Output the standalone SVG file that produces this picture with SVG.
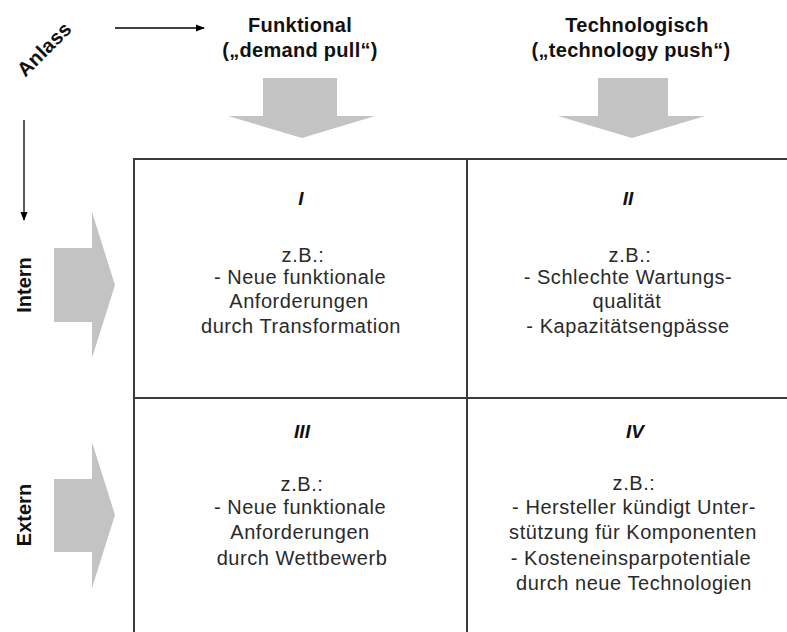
<svg xmlns="http://www.w3.org/2000/svg" width="787" height="632" viewBox="0 0 787 632">
<defs>
<style>
.hd{font-family:"Liberation Sans",Arial,sans-serif;font-weight:bold;font-size:20px;fill:#111;text-anchor:middle}
.rn{font-family:"Liberation Sans",Arial,sans-serif;font-weight:bold;font-style:italic;font-size:19px;fill:#111;text-anchor:middle}
.ct{font-family:"Liberation Sans",Arial,sans-serif;font-size:20px;letter-spacing:0.55px;fill:#2a2a2a;text-anchor:middle}
.big{fill:#c3c3c3;stroke:none}
.grid{stroke:#3a3a3a;stroke-width:2;fill:none}
.thin{stroke:#000;stroke-width:1.3;fill:none}
</style>
<marker id="ah" viewBox="0 0 10 10" refX="9" refY="5" markerWidth="9" markerHeight="9" markerUnits="userSpaceOnUse" orient="auto">
<path d="M0,1 L10,5 L0,9 Z" fill="#000"/>
</marker>
</defs>
<rect width="787" height="632" fill="#fff"/>

<g id="connectors">
<line class="thin" x1="115" y1="28" x2="204" y2="28" marker-end="url(#ah)"/>
<line class="thin" x1="24" y1="120" x2="24" y2="220" marker-end="url(#ah)"/>
<path id="arrow-funktional" class="big" d="M263,78 H337 V116 H375 L302,138 L228,116 H263 Z"/>
<path id="arrow-technologisch" class="big" d="M598,78 H668 V116 H705 L632,138 L558,116 H598 Z"/>
<path id="arrow-intern" class="big" d="M54,248 H92 V212 L115,285 L92,358 V322 H54 Z"/>
<path id="arrow-extern" class="big" d="M54,479 H92 V442 L115,515 L92,588 V552 H54 Z"/>
</g>

<g id="label-anlass">
<text class="hd" font-size="20" letter-spacing="0.3" transform="translate(49,54) rotate(-45)">Anlass</text>
</g>
<g id="header-funktional">
<text class="hd" x="300" y="32" font-size="21" letter-spacing="0.3">Funktional</text>
<text class="hd" x="300" y="57" font-size="21" letter-spacing="0.3">(„demand pull“)</text>
</g>
<g id="header-technologisch">
<text class="hd" x="637" y="32" font-size="21" letter-spacing="0.3">Technologisch</text>
<text class="hd" x="631" y="57" font-size="21" letter-spacing="0.3">(„technology push“)</text>
</g>
<g id="label-intern">
<text class="hd" transform="translate(31,285) rotate(-90)">Intern</text>
</g>
<g id="label-extern">
<text class="hd" transform="translate(31,515) rotate(-90)">Extern</text>
</g>

<g id="grid">
<path class="grid" d="M134,632 V159 H787"/>
<line class="grid" x1="467" y1="159" x2="467" y2="632"/>
<line class="grid" x1="134" y1="398" x2="787" y2="398"/>
</g>

<g id="cell-I">
<text class="rn" x="301" y="205">I</text>
<text class="ct" x="303" y="262">z.B.:</text>
<text class="ct" x="300" y="284">- Neue funktionale</text>
<text class="ct" x="299" y="308">Anforderungen</text>
<text class="ct" x="301" y="333">durch Transformation</text>
</g>
<g id="cell-II">
<text class="rn" x="628" y="205">II</text>
<text class="ct" x="630" y="262">z.B.:</text>
<text class="ct" x="628" y="284">- Schlechte Wartungs-</text>
<text class="ct" x="627" y="308">qualität</text>
<text class="ct" x="628" y="333">- Kapazitätsengpässe</text>
</g>
<g id="cell-III">
<text class="rn" x="302" y="438">III</text>
<text class="ct" x="302" y="491">z.B.:</text>
<text class="ct" x="300" y="514">- Neue funktionale</text>
<text class="ct" x="300" y="539">Anforderungen</text>
<text class="ct" x="302" y="565">durch Wettbewerb</text>
</g>
<g id="cell-IV">
<text class="rn" x="635" y="438">IV</text>
<text class="ct" x="634" y="490">z.B.:</text>
<text class="ct" x="634" y="514">- Hersteller kündigt Unter-</text>
<text class="ct" x="633" y="539">stützung für Komponenten</text>
<text class="ct" x="631" y="565">- Kosteneinsparpotentiale</text>
<text class="ct" x="634" y="590">durch neue Technologien</text>
</g>
</svg>
